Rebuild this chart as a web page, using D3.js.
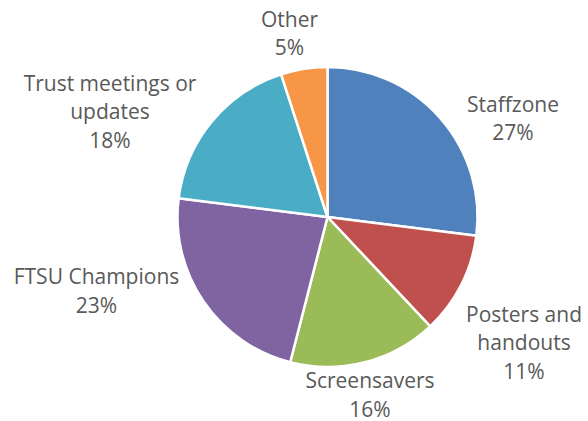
<!DOCTYPE html>
<html>
<head>
<meta charset="utf-8">
<script src="https://cdn.jsdelivr.net/npm/d3@7"></script>
<style>
  html, body { margin: 0; padding: 0; background: #ffffff; }
  svg { display: block; }
</style>
</head>
<body>
<svg id="chart" width="588" height="421"></svg>
<script>
// ---- data ----
const categories = ["Staffzone", "Posters and handouts", "Screensavers", "FTSU Champions", "Trust meetings or updates", "Other"];
const values = [27, 11, 16, 23, 18, 5];
const labelLines = [
  ["Staffzone"],
  ["Posters and", "handouts"],
  ["Screensavers"],
  ["FTSU Champions"],
  ["Trust meetings or", "updates"],
  ["Other"]
];
const colors = ["#4F81BD", "#C0504D", "#9BBB59", "#8064A2", "#4BACC6", "#F79646"];

// ---- layout ----
const width = 588, height = 421;
const cx = 327.5, cy = 217, radius = 150;
const lineHeight = 28.5;
// label anchor (center x, first baseline) offsets from pie center
const labelOffsets = [
  [185.5, -105.5],
  [196.5, 104.5],
  [42.5, 171],
  [-231, 67],
  [-217.5, -126.5],
  [-38, -190.5]
];

const svg = d3.select("#chart");
const g = svg.append("g").attr("transform", `translate(${cx},${cy})`);

const pie = d3.pie().sort(null).value(d => d.value);
const arc = d3.arc().innerRadius(0).outerRadius(radius);

const data = categories.map((c, i) => ({ name: c, value: values[i], color: colors[i], lines: labelLines[i], off: labelOffsets[i] }));
const arcs = pie(data);

g.selectAll("path.slice")
  .data(arcs)
  .join("path")
  .attr("class", "slice")
  .attr("d", arc)
  .attr("fill", d => d.data.color)
  .attr("stroke", "#ffffff")
  .attr("stroke-width", 2.5)
  .attr("stroke-linejoin", "round");

const total = d3.sum(values);
const fmt = d3.format(".0%");

const labels = g.selectAll("text.lbl")
  .data(arcs)
  .join("text")
  .attr("class", "lbl")
  .attr("text-anchor", "middle")
  .attr("font-family", "'Open Sans', sans-serif")
  .attr("font-size", 21)
  .attr("fill", "#595959")
  .attr("transform", d => `translate(${d.data.off[0]},${d.data.off[1]})`);

labels.each(function(d) {
  const t = d3.select(this);
  const lines = d.data.lines.concat([fmt(d.data.value / total)]);
  lines.forEach((ln, i) => {
    t.append("tspan").attr("x", 0).attr("y", i * lineHeight).text(ln);
  });
});
</script>
</body>
</html>
